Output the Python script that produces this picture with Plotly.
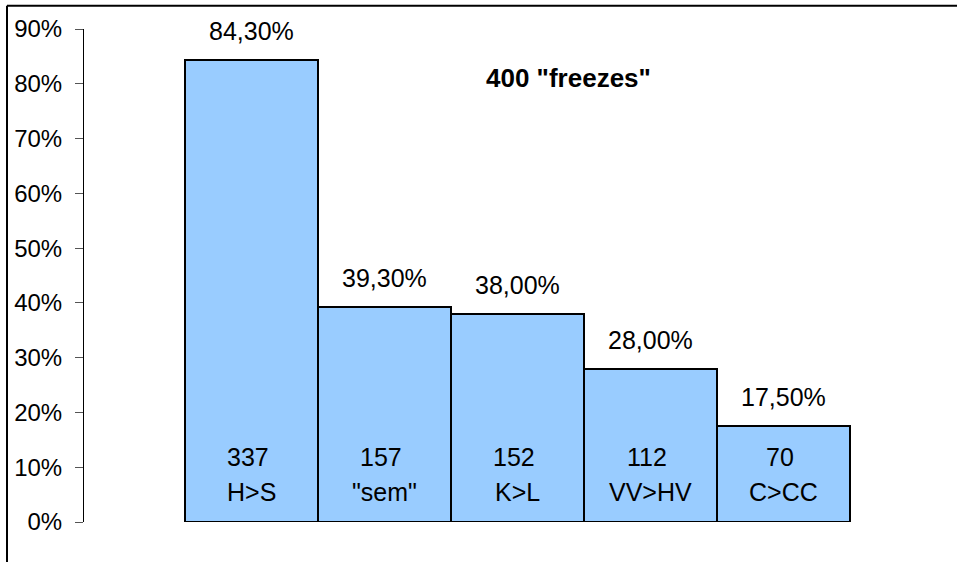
import plotly.graph_objects as go

categories = ["H>S", "\"sem\"", "K>L", "VV>HV", "C>CC"]
counts = [337, 157, 152, 112, 70]
shares = [84.3, 39.3, 38.0, 28.0, 17.5]
share_labels = ["84,30%", "39,30%", "38,00%", "28,00%", "17,50%"]
title_text = "400 \"freezes\""
y_ticks = [0, 10, 20, 30, 40, 50, 60, 70, 80, 90]

xs = list(range(len(categories)))
fig = go.Figure()
fig.add_trace(go.Bar(
    x=xs, y=shares, width=1.0,
    marker=dict(color="#99CCFF", line=dict(color="black", width=2)),
    hoverinfo="skip", showlegend=False,
))

font = "Liberation Sans, Arial, sans-serif"
ann = []
for x, v, lab, c, cat in zip(xs, shares, share_labels, counts, categories):
    ann.append(dict(x=x, y=v, xref="x", yref="y", text=lab, showarrow=False,
                    yanchor="middle", yshift=29, font=dict(size=25, color="black", family=font)))
    ann.append(dict(x=x - 0.02, y=11.8, xref="x", yref="y", text=str(c), showarrow=False,
                    yanchor="middle", font=dict(size=25, color="black", family=font)))
    ann.append(dict(x=x, y=5.4, xref="x", yref="y", text=cat, showarrow=False,
                    yanchor="middle", font=dict(size=25, color="black", family=font)))
ann.append(dict(x=2.385, y=81.1, xref="x", yref="y", text="<b>" + title_text + "</b>", showarrow=False,
                yanchor="middle", font=dict(size=26, color="black", family=font)))

shapes = [
    dict(type="line", xref="paper", yref="paper", x0=-0.0882, x1=1.2, y0=1.047, y1=1.047,
         line=dict(color="black", width=2)),
    dict(type="line", xref="paper", yref="paper", x0=-0.0882, x1=-0.0882, y0=1.047, y1=-0.2,
         line=dict(color="black", width=2)),
]

fig.update_layout(
    width=957, height=562,
    margin=dict(l=84, r=0, t=29, b=40),
    paper_bgcolor="white", plot_bgcolor="white",
    bargap=0,
    annotations=ann, shapes=shapes,
    xaxis=dict(range=[-1.256, 5.308], showticklabels=False, showgrid=False,
               zeroline=False, showline=False, ticks=""),
    yaxis=dict(range=[0, 90], tickvals=y_ticks, ticktext=[f"{t}%" for t in y_ticks],
               showgrid=False, zeroline=False, showline=True, linecolor="black", linewidth=1,
               ticks="outside", ticklen=8, tickcolor="#555555", tickwidth=1,
               ticklabelstandoff=8,
               tickfont=dict(size=24, color="black", family=font)),
)

fig.write_html("out.html", config={"displayModeBar": False},
               post_script="document.body.style.margin='0px';")
